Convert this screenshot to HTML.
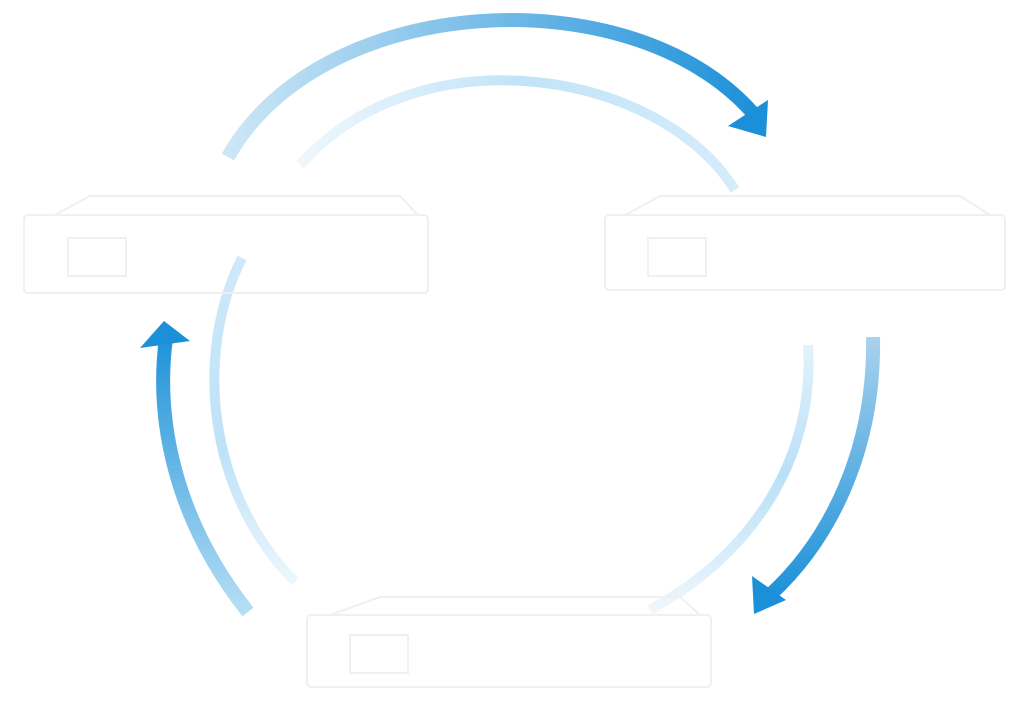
<!DOCTYPE html>
<html><head><meta charset="utf-8"><style>
html,body{margin:0;padding:0;background:#fff;width:1024px;height:714px;overflow:hidden}
</style></head><body>
<svg width="1024" height="714" viewBox="0 0 1024 714" xmlns="http://www.w3.org/2000/svg">
<defs>
<linearGradient id="gTop" x1="228" y1="0" x2="760" y2="0" gradientUnits="userSpaceOnUse">
<stop offset="0" stop-color="#cde6f6"/><stop offset="1" stop-color="#1b90d8"/></linearGradient>
<linearGradient id="gRight" x1="0" y1="337" x2="0" y2="600" gradientUnits="userSpaceOnUse">
<stop offset="0" stop-color="#a9d2ee"/><stop offset="1" stop-color="#1b90d8"/></linearGradient>
<linearGradient id="gLeft" x1="0" y1="612" x2="0" y2="330" gradientUnits="userSpaceOnUse">
<stop offset="0" stop-color="#b5def5"/><stop offset="1" stop-color="#1b90d8"/></linearGradient>
<linearGradient id="iTop" x1="735" y1="0" x2="300" y2="0" gradientUnits="userSpaceOnUse">
<stop offset="0" stop-color="#d5ecfa"/><stop offset="0.5" stop-color="#c2e4f8"/><stop offset="1" stop-color="#eef7fd"/></linearGradient>
<linearGradient id="iRight" x1="0" y1="610" x2="0" y2="340" gradientUnits="userSpaceOnUse">
<stop offset="0" stop-color="#eef7fd"/><stop offset="0.5" stop-color="#b9e0f7"/><stop offset="1" stop-color="#e4f3fc"/></linearGradient>
<linearGradient id="iLeft" x1="0" y1="255" x2="0" y2="585" gradientUnits="userSpaceOnUse">
<stop offset="0" stop-color="#cfe9f9"/><stop offset="0.6" stop-color="#bde2f8"/><stop offset="1" stop-color="#eef7fd"/></linearGradient>
</defs>

<path d="M735 190 C 660 70, 420 30, 300 165" fill="none" stroke="url(#iTop)" stroke-width="10"/>
<path d="M650 610 C 760 550, 815 450, 808 345" fill="none" stroke="url(#iRight)" stroke-width="10"/>
<path d="M242 258 C 195 350, 205 490, 295 582" fill="none" stroke="url(#iLeft)" stroke-width="10"/>

<path d="M228 157 C 320 -8, 630 -25, 752 112" fill="none" stroke="url(#gTop)" stroke-width="14"/>
<polygon points="766,137 728,126 768,100" fill="#1b90d8"/>
<path d="M873 337 C 875 450, 830 540, 770 595" fill="none" stroke="url(#gRight)" stroke-width="14"/>
<polygon points="754,614 752,576 786,600" fill="#1b90d8"/>
<path d="M248 612 C 175 520, 155 420, 166 338" fill="none" stroke="url(#gLeft)" stroke-width="14"/>
<polygon points="164,321 140,348 190,341" fill="#1b90d8"/>

<g fill="none" stroke="#f0f0f0" stroke-width="2">
<rect x="24" y="215" width="404" height="78" rx="4"/>
<path d="M55 215 L90 196 L400 196 L418 215"/>
<rect x="68" y="238" width="58" height="38"/>
<rect x="605" y="215" width="400" height="75" rx="4"/>
<path d="M625 215 L660 196 L960 196 L990 215"/>
<rect x="648" y="238" width="58" height="38"/>
<rect x="307" y="615" width="404" height="72" rx="4"/>
<path d="M330 615 L380 597 L680 597 L700 615"/>
<rect x="350" y="635" width="58" height="38"/>
</g>
</svg>
</body></html>
